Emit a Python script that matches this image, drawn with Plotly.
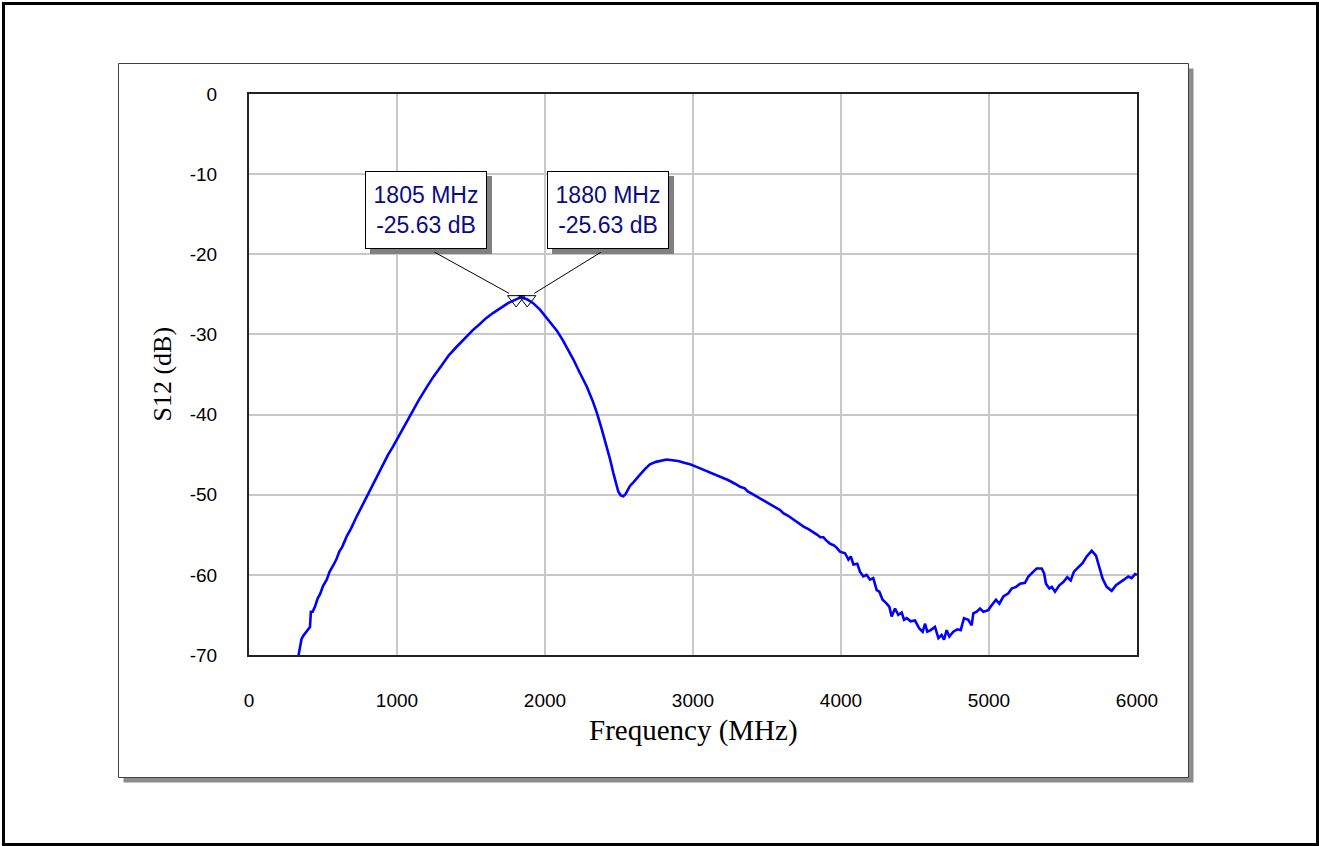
import plotly.graph_objects as go

# ---------------- data ----------------
freq_mhz = [
    335, 345, 355, 367, 380, 400, 412, 418, 430, 445, 465, 480, 500, 525, 545, 570, 592, 610, 630, 660,
    690, 720, 750, 772, 800, 830, 860, 885, 910, 940, 970, 1000, 1050, 1110, 1150, 1200, 1245, 1300, 1350, 1400,
    1450, 1516, 1560, 1600, 1651, 1700, 1750, 1805, 1840, 1880, 1920, 1966, 2000, 2040, 2079, 2120, 2150, 2191, 2230, 2282,
    2320, 2349, 2380, 2417, 2440, 2462, 2480, 2495, 2512, 2529, 2545, 2560, 2574, 2600, 2620, 2642, 2675, 2709, 2750, 2790,
    2822, 2860, 2900, 2940, 2980, 3020, 3060, 3100, 3160, 3200, 3240, 3280, 3318, 3350, 3370, 3400, 3430, 3470, 3500, 3530,
    3560, 3588, 3610, 3640, 3670, 3700, 3723, 3750, 3780, 3810, 3840, 3860, 3881, 3900, 3925, 3950, 3970, 3993, 4027, 4050,
    4066, 4084, 4110, 4128, 4151, 4173, 4196, 4218, 4241, 4259, 4281, 4304, 4327, 4342, 4365, 4387, 4410, 4426, 4444, 4471,
    4500, 4529, 4552, 4568, 4583, 4606, 4635, 4658, 4680, 4696, 4714, 4732, 4759, 4786, 4809, 4831, 4860, 4883, 4894, 4917,
    4939, 4962, 4995, 5018, 5047, 5070, 5097, 5131, 5153, 5183, 5210, 5243, 5266, 5300, 5322, 5356, 5372, 5385, 5408, 5424,
    5446, 5475, 5502, 5529, 5552, 5574, 5604, 5633, 5660, 5694, 5723, 5746, 5768, 5795, 5829, 5858, 5885, 5912, 5941, 5964,
    5987, 6000,
]
s12_db = [
    -70.0, -69.0, -68.0, -67.6, -67.3, -66.7, -66.5, -64.6, -64.6, -64.0, -62.9, -62.4, -61.4, -60.6, -59.6, -58.8, -58.0, -57.1, -56.5, -55.2,
    -54.2, -53.0, -51.9, -51.1, -50.1, -48.9, -47.8, -46.9, -46.0, -45.0, -44.1, -43.1, -41.4, -39.4, -38.1, -36.6, -35.3, -33.9, -32.6, -31.6,
    -30.6, -29.4, -28.7, -28.0, -27.3, -26.7, -26.1, -25.63, -25.35, -25.63, -26.1, -26.9, -27.7, -28.6, -29.5, -30.7, -31.7, -33.1, -34.6, -36.5,
    -38.2, -39.7, -41.6, -44.0, -45.6, -47.3, -48.6, -49.6, -50.1, -50.2, -49.9, -49.4, -48.9, -48.4, -47.9, -47.5, -46.8, -46.2, -45.9, -45.7,
    -45.6, -45.7, -45.8, -46.0, -46.2, -46.5, -46.8, -47.1, -47.5, -47.9, -48.2, -48.6, -49.0, -49.2, -49.6, -49.9, -50.2, -50.6, -50.9, -51.2,
    -51.6, -51.9, -52.3, -52.6, -53.0, -53.3, -53.6, -54.0, -54.3, -54.6, -55.0, -55.3, -55.3, -55.7, -56.1, -56.3, -56.6, -57.1, -57.3, -58.1,
    -57.7, -58.7, -58.6, -59.6, -60.2, -60.0, -60.6, -60.4, -61.9, -62.1, -63.1, -63.5, -64.0, -65.2, -64.2, -65.0, -64.7, -65.6, -65.4, -65.8,
    -65.7, -66.7, -67.1, -66.1, -67.1, -66.9, -66.5, -67.9, -67.5, -68.1, -66.9, -67.7, -67.1, -66.8, -66.9, -65.4, -65.6, -66.3, -64.8, -64.6,
    -64.2, -64.6, -64.4, -63.8, -63.1, -63.6, -62.7, -62.3, -61.7, -61.5, -61.1, -61.0, -60.2, -59.6, -59.2, -59.2, -59.8, -61.1, -61.7, -61.5,
    -62.1, -61.3, -60.9, -60.3, -60.7, -59.6, -59.0, -58.5, -57.7, -57.0, -57.6, -59.0, -60.5, -61.5, -62.0, -61.3, -60.9, -60.6, -60.2, -60.4,
    -59.9, -60.0,
]

marker_freq = [1805, 1880]
marker_db = [-25.63, -25.63]
marker_text = ["1805 MHz<br>-25.63 dB", "1880 MHz<br>-25.63 dB"]

x_ticks = [0, 1000, 2000, 3000, 4000, 5000, 6000]
y_ticks = [0, -10, -20, -30, -40, -50, -60, -70]

# ---------------- layout geometry (pixels) ----------------
W, H = 1319, 846
PL, PR, PT, PB = 249, 1137, 94, 655


def px(xpix):
    return (xpix - PL) / (PR - PL)


def py(ypix):
    return (PB - ypix) / (PB - PT)


fig = go.Figure()

fig.add_trace(go.Scatter(
    x=freq_mhz, y=s12_db, mode="lines",
    line=dict(color="#0000ff", width=2.6),
    hoverinfo="skip", showlegend=False,
))

fig.add_trace(go.Scatter(
    x=marker_freq, y=marker_db, mode="markers",
    marker=dict(symbol="triangle-down-open", size=15, color="black", line=dict(width=1, color="black")),
    hoverinfo="skip", showlegend=False, cliponaxis=False,
))

shapes = [
    # drop shadow of the inner panel
    dict(type="rect", xref="paper", yref="paper", layer="below",
         x0=px(123.5), x1=px(1193.5), y0=py(68.5), y1=py(782.5),
         fillcolor="#8c8c8c", line=dict(width=0)),
    # inner panel
    dict(type="rect", xref="paper", yref="paper", layer="below",
         x0=px(118.5), x1=px(1188.5), y0=py(63.5), y1=py(777.5),
         fillcolor="white", line=dict(color="#404040", width=1)),
    # outer frame
    dict(type="rect", xref="paper", yref="paper", layer="above",
         x0=px(3.5), x1=px(1317.5), y0=py(3.5), y1=py(844.5),
         fillcolor="rgba(0,0,0,0)", line=dict(color="black", width=3)),
]

annotations = []
# box offsets (pixels) relative to the marker point
box_shift = [(-90, 89), (80.5, 89)]
arrow_cfg = [(-7, 6, -76, -42), (7, 6, 68, -42)]
for i in range(2):
    xs, ys = box_shift[i]
    # shadow box
    annotations.append(dict(
        x=marker_freq[i], y=marker_db[i], xref="x", yref="y",
        text=" ", showarrow=False,
        xshift=xs + 5, yshift=ys - 5,
        width=118, height=74, bgcolor="#808080", bordercolor="#808080", borderwidth=1,
        font=dict(family="Liberation Sans", size=23, color="#808080"),
    ))
    # main box
    annotations.append(dict(
        x=marker_freq[i], y=marker_db[i], xref="x", yref="y",
        text=marker_text[i], showarrow=False,
        xshift=xs, yshift=ys,
        width=118, height=74, bgcolor="white", bordercolor="black", borderwidth=1,
        font=dict(family="Liberation Sans", size=23, color="#0a0a86"),
    ))
    # leader line
    axs, ays, ax, ay = arrow_cfg[i]
    annotations.append(dict(
        x=marker_freq[i], y=marker_db[i], xref="x", yref="y",
        text="", showarrow=True, arrowhead=0, arrowwidth=1, arrowcolor="black",
        ax=ax, ay=ay, xshift=axs, yshift=ays, standoff=0, startstandoff=0,
    ))

# axis titles
annotations.append(dict(
    text="Frequency (MHz)", xref="paper", yref="paper", x=0.5, y=0,
    xanchor="center", yanchor="middle", yshift=-75, showarrow=False,
    font=dict(family="Liberation Serif", size=29, color="black"),
))
annotations.append(dict(
    text="S12 (dB)", xref="paper", yref="paper", x=px(162), y=0.5,
    xanchor="center", yanchor="middle", textangle=-90, showarrow=False,
    font=dict(family="Liberation Serif", size=26, color="black"),
))

fig.update_layout(
    width=W, height=H,
    margin=dict(l=PL, r=W - PR, t=PT, b=H - PB, pad=0),
    paper_bgcolor="white", plot_bgcolor="white",
    shapes=shapes, annotations=annotations,
    showlegend=False,
    xaxis=dict(
        range=[0, 6000], tickvals=x_ticks, ticktext=[str(v) for v in x_ticks],
        showgrid=True, gridcolor="#c8c8c8", gridwidth=1.5, zeroline=False,
        showline=True, linecolor="#222222", linewidth=2, mirror=True,
        ticks="", ticklabelstandoff=27,
        tickfont=dict(family="Liberation Sans", size=19, color="black"),
    ),
    yaxis=dict(
        range=[-70, 0], tickvals=y_ticks, ticktext=[str(v) for v in y_ticks],
        showgrid=True, gridcolor="#c8c8c8", gridwidth=1.5, zeroline=False,
        showline=True, linecolor="#222222", linewidth=2, mirror=True,
        ticks="", ticklabelstandoff=26,
        tickfont=dict(family="Liberation Sans", size=19, color="black"),
    ),
)

fig.write_html("out.html")
